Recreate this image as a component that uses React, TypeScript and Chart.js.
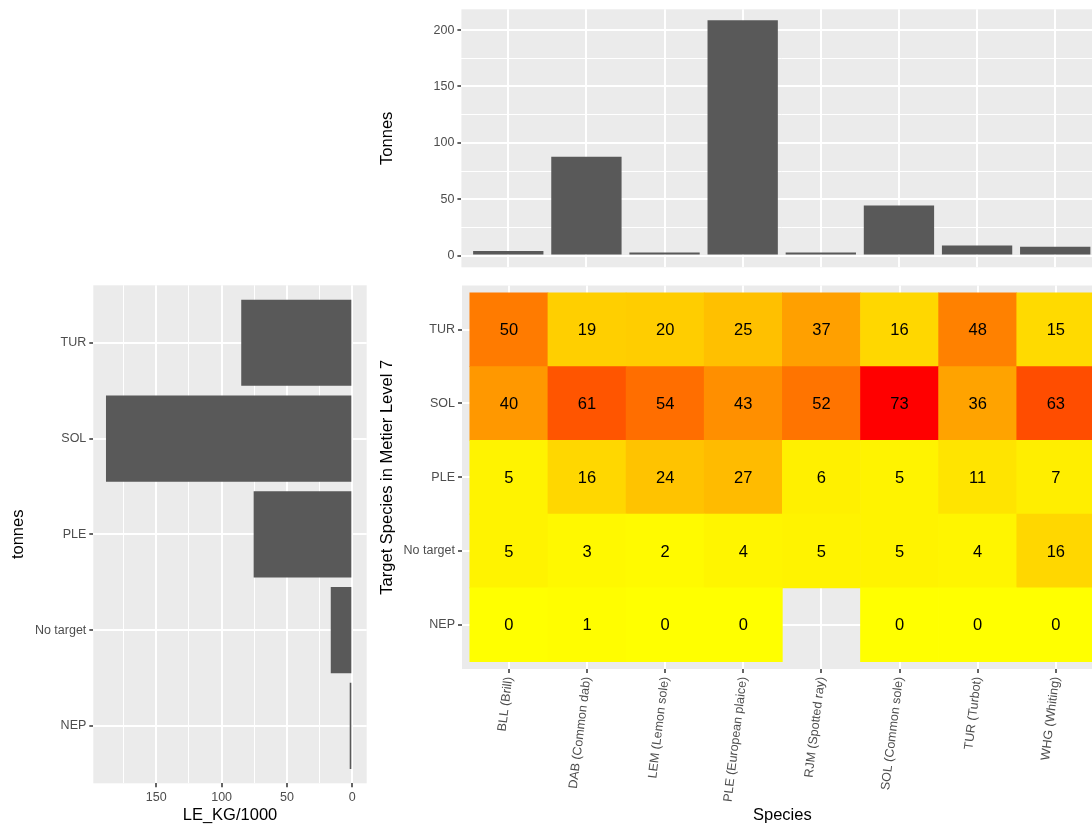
import React, { useEffect, useRef } from 'react';
import { Chart, registerables } from 'chart.js';

Chart.register(...registerables);
Chart.defaults.font.family = '"Liberation Sans", Arial, sans-serif';

// ---------- data ----------
const species = [
  'BLL (Brill)',
  'DAB (Common dab)',
  'LEM (Lemon sole)',
  'PLE (European plaice)',
  'RJM (Spotted ray)',
  'SOL (Common sole)',
  'TUR (Turbot)',
  'WHG (Whiting)',
];
const speciesTonnes = [4, 87.6, 2.8, 208.6, 2.8, 44.5, 9, 7.8];

// bottom to top
const targets = ['NEP', 'No target', 'PLE', 'SOL', 'TUR'];
const targetTonnes = [2, 16.5, 75.5, 188.5, 85];

const heatNEP = [0, 1, 0, 0, null, 0, 0, 0];
const heatNoTarget = [5, 3, 2, 4, 5, 5, 4, 16];
const heatPLE = [5, 16, 24, 27, 6, 5, 11, 7];
const heatSOL = [40, 61, 54, 43, 52, 73, 36, 63];
const heatTUR = [50, 19, 20, 25, 37, 16, 48, 15];
const heatRows: (number | null)[][] = [heatNEP, heatNoTarget, heatPLE, heatSOL, heatTUR];

const topTickValues = [0, 25, 50, 75, 100, 125, 150, 175, 200];
const leftTickValues = [0, 25, 50, 75, 100, 125, 150, 175];

// ---------- styling helpers ----------
const BAR = '#595959';
const PANEL = '#EBEBEB';
const TICKTXT = '#4D4D4D';
const TICKCOL = '#333333';
const TICKFONT = { size: 12.5 };
const TITLEFONT = { size: 16.5 };

function toLin(c: number) {
  c /= 255;
  return c <= 0.04045 ? c / 12.92 : Math.pow((c + 0.055) / 1.055, 2.4);
}
function fromLin(c: number) {
  const v = c <= 0.0031308 ? 12.92 * c : 1.055 * Math.pow(c, 1 / 2.4) - 0.055;
  return Math.round(Math.max(0, Math.min(1, v)) * 255);
}
const XN = 0.95047, YN = 1, ZN = 1.08883;
function rgbToLab(rgb: number[]) {
  const [r, g, b] = rgb.map(toLin);
  const X = 0.4124564 * r + 0.3575761 * g + 0.1804375 * b;
  const Y = 0.2126729 * r + 0.7151522 * g + 0.072175 * b;
  const Z = 0.0193339 * r + 0.119192 * g + 0.9503041 * b;
  const f = (t: number) => (t > 0.008856 ? Math.cbrt(t) : 7.787 * t + 16 / 116);
  const fx = f(X / XN), fy = f(Y / YN), fz = f(Z / ZN);
  return [116 * fy - 16, 500 * (fx - fy), 200 * (fy - fz)];
}
function labToRgb(lab: number[]) {
  const [L, a, b] = lab;
  const fy = (L + 16) / 116;
  const fx = fy + a / 500;
  const fz = fy - b / 200;
  const inv = (t: number) => (t * t * t > 0.008856 ? t * t * t : (t - 16 / 116) / 7.787);
  const X = inv(fx) * XN, Y = inv(fy) * YN, Z = inv(fz) * ZN;
  const r = 3.2404542 * X - 1.5371385 * Y - 0.4985314 * Z;
  const g = -0.969266 * X + 1.8760108 * Y + 0.041556 * Z;
  const bb = 0.0556434 * X - 0.2040259 * Y + 1.0572252 * Z;
  return [fromLin(r), fromLin(g), fromLin(bb)];
}
const LOW = rgbToLab([255, 255, 0]);
const HIGH = rgbToLab([255, 0, 0]);
const allHeat = heatRows.flat().filter((v) => v != null) as number[];
const HMIN = Math.min(...allHeat);
const HMAX = Math.max(...allHeat);
function fillFor(v: number) {
  const t = (v - HMIN) / (HMAX - HMIN);
  const lab = LOW.map((l, i) => l + (HIGH[i] - l) * t);
  const [r, g, b] = labToRgb(lab);
  return `rgb(${r},${g},${b})`;
}

const panelBg = {
  id: 'panelBg',
  beforeDraw(chart: any) {
    const { ctx, chartArea } = chart;
    ctx.save();
    ctx.fillStyle = PANEL;
    ctx.fillRect(chartArea.left, chartArea.top, chartArea.width, chartArea.height);
    ctx.restore();
  },
};

const heatText = {
  id: 'heatText',
  afterDatasetsDraw(chart: any) {
    const { ctx } = chart;
    const xs = chart.scales.x;
    const ys = chart.scales.y;
    ctx.save();
    ctx.fillStyle = '#000';
    ctx.font = '16.5px "Liberation Sans", Arial, sans-serif';
    ctx.textAlign = 'center';
    ctx.textBaseline = 'middle';
    heatRows.forEach((row, r) => {
      row.forEach((v, c) => {
        if (v == null) return;
        ctx.fillText(String(v), xs.getPixelForValue(c), ys.getPixelForValue(r) + 1);
      });
    });
    ctx.restore();
  },
};

const base = {
  animation: false as const,
  responsive: false,
  devicePixelRatio: 1,
  events: [] as any[],
  plugins: { legend: { display: false }, tooltip: { enabled: false } },
};

const majorGrid = {
  offset: false,
  color: '#FFFFFF',
  lineWidth: 2,
  tickColor: TICKCOL,
  tickLength: 4,
  tickWidth: 1.5,
};

function setTicks(values: number[]) {
  return (scale: any) => {
    scale.ticks = values.map((v) => ({ value: v }));
  };
}

export default function App() {
  const topRef = useRef<HTMLCanvasElement>(null);
  const heatRef = useRef<HTMLCanvasElement>(null);
  const leftRef = useRef<HTMLCanvasElement>(null);

  useEffect(() => {
    const catIdx = species.map((_, i) => i);
    const rowIdx = targets.map((_, i) => i);

    // ---- top bar chart ----
    const top = new Chart(topRef.current!, {
      type: 'bar',
      data: {
        datasets: [
          {
            data: speciesTonnes.map((v, i) => ({ x: i, y: v })) as any,
            backgroundColor: BAR,
            borderWidth: 0,
            barPercentage: 0.9,
            categoryPercentage: 1,
          },
        ],
      },
      options: {
        ...base,
        layout: { padding: { left: 378, top: 29.3, right: 7.9, bottom: 12.7 } },
        scales: {
          x: {
            type: 'linear',
            offset: false,
            min: -0.6,
            max: 7.6,
            afterBuildTicks: setTicks(catIdx),
            ticks: { display: false },
            grid: { offset: false, color: '#FFFFFF', lineWidth: 2, drawTicks: false },
            border: { display: false },
            afterFit: (s: any) => {
              s.height = 0;
            },
          },
          y: {
            type: 'linear',
            min: -10.4,
            max: 218.4,
            afterBuildTicks: setTicks(topTickValues),
            ticks: {
              autoSkip: false,
              color: TICKTXT,
              font: TICKFONT,
              padding: 3,
              callback: (v: any) => (Number(v) % 50 === 0 ? String(v) : ''),
            },
            grid: {
              color: '#FFFFFF',
              lineWidth: (c: any) => (c.tick && c.tick.value % 50 === 0 ? 2 : 1),
              tickColor: (c: any) => (c.tick && c.tick.value % 50 === 0 ? TICKCOL : 'rgba(0,0,0,0)'),
              tickLength: 4,
              tickWidth: 1.5,
            },
            border: { display: false },
            title: { display: true, text: 'Tonnes', color: '#000', font: TITLEFONT, padding: 0 },
            afterFit: (s: any) => {
              s.width = 461.4 - 378;
            },
          },
        },
      } as any,
      plugins: [panelBg],
    });

    // ---- heatmap ----
    const heatDatasets = heatRows.map((row, r) => {
      const cells: any[] = [];
      const colors: string[] = [];
      row.forEach((v, c) => {
        if (v == null) return;
        cells.push({ x: c, y: [r - 0.5, r + 0.5] });
        colors.push(fillFor(v));
      });
      return {
        data: cells,
        backgroundColor: colors,
        borderWidth: 0,
        barPercentage: 1,
        categoryPercentage: 1,
        grouped: false,
      };
    });

    const heat = new Chart(heatRef.current!, {
      type: 'bar',
      data: { datasets: heatDatasets as any },
      options: {
        ...base,
        layout: { padding: { left: 378, top: 30.5, right: 7.3, bottom: 0 } },
        scales: {
          x: {
            type: 'linear',
            offset: false,
            min: -0.6,
            max: 7.6,
            afterBuildTicks: setTicks(catIdx),
            ticks: {
              autoSkip: false,
              color: TICKTXT,
              font: TICKFONT,
              padding: 3,
              minRotation: 83,
              maxRotation: 83,
              callback: (v: any) => species[Math.round(Number(v))] ?? '',
            },
            grid: majorGrid,
            border: { display: false },
            title: { display: true, text: 'Species', color: '#000', font: TITLEFONT, padding: 0 },
            afterFit: (s: any) => {
              s.height = 156;
            },
          },
          y: {
            type: 'linear',
            offset: false,
            min: -0.6,
            max: 4.6,
            afterBuildTicks: setTicks(rowIdx),
            ticks: {
              autoSkip: false,
              color: TICKTXT,
              font: TICKFONT,
              padding: 3,
              callback: (v: any) => targets[Math.round(Number(v))] ?? '',
            },
            grid: majorGrid,
            border: { display: false },
            title: {
              display: true,
              text: 'Target Species in Metier Level 7',
              color: '#000',
              font: TITLEFONT,
              padding: 0,
            },
            afterFit: (s: any) => {
              s.width = 462 - 378;
            },
          },
        },
      } as any,
      plugins: [panelBg, heatText],
    });

    // ---- left horizontal bar chart ----
    const left = new Chart(leftRef.current!, {
      type: 'bar',
      data: {
        datasets: [
          {
            data: targetTonnes.map((v, i) => ({ x: v, y: i })) as any,
            backgroundColor: BAR,
            borderWidth: 0,
            barPercentage: 0.9,
            categoryPercentage: 1,
          },
        ],
      },
      options: {
        ...base,
        indexAxis: 'y',
        layout: { padding: { left: 9, top: 30.3, right: 13.3, bottom: 0 } },
        scales: {
          x: {
            type: 'linear',
            reverse: true,
            min: -11,
            max: 198.2,
            afterBuildTicks: setTicks(leftTickValues),
            ticks: {
              autoSkip: false,
              color: TICKTXT,
              font: TICKFONT,
              padding: 3,
              maxRotation: 0,
              callback: (v: any) => (Number(v) % 50 === 0 ? String(v) : ''),
            },
            grid: {
              color: '#FFFFFF',
              lineWidth: (c: any) => (c.tick && c.tick.value % 50 === 0 ? 2 : 1),
              tickColor: (c: any) => (c.tick && c.tick.value % 50 === 0 ? TICKCOL : 'rgba(0,0,0,0)'),
              tickLength: 4,
              tickWidth: 1.5,
            },
            border: { display: false },
            title: { display: true, text: 'LE_KG/1000', color: '#000', font: TITLEFONT, padding: 0 },
            afterFit: (s: any) => {
              s.height = 570 - 30.3 - 498;
            },
          },
          y: {
            type: 'linear',
            offset: false,
            min: -0.6,
            max: 4.6,
            afterBuildTicks: setTicks(rowIdx),
            ticks: {
              autoSkip: false,
              color: TICKTXT,
              font: TICKFONT,
              padding: 3,
              callback: (v: any) => targets[Math.round(Number(v))] ?? '',
            },
            grid: majorGrid,
            border: { display: false },
            title: { display: true, text: 'tonnes', color: '#000', font: TITLEFONT, padding: 0 },
            afterFit: (s: any) => {
              s.width = 93.3 - 9;
            },
          },
        },
      } as any,
      plugins: [panelBg],
    });

    return () => {
      top.destroy();
      heat.destroy();
      left.destroy();
    };
  }, []);

  return (
    <div
      style={{
        position: 'fixed',
        left: 0,
        top: 0,
        width: 1092,
        height: 825,
        overflow: 'hidden',
        background: '#FFFFFF',
      }}
    >
      <canvas
        ref={topRef}
        width={1110}
        height={300}
        style={{ position: 'absolute', left: 0, top: -20, width: 1110, height: 300 }}
      />
      <canvas
        ref={heatRef}
        width={1110}
        height={570}
        style={{ position: 'absolute', left: 0, top: 255, width: 1110, height: 570 }}
      />
      <canvas
        ref={leftRef}
        width={380}
        height={570}
        style={{ position: 'absolute', left: 0, top: 255, width: 380, height: 570 }}
      />
    </div>
  );
}
